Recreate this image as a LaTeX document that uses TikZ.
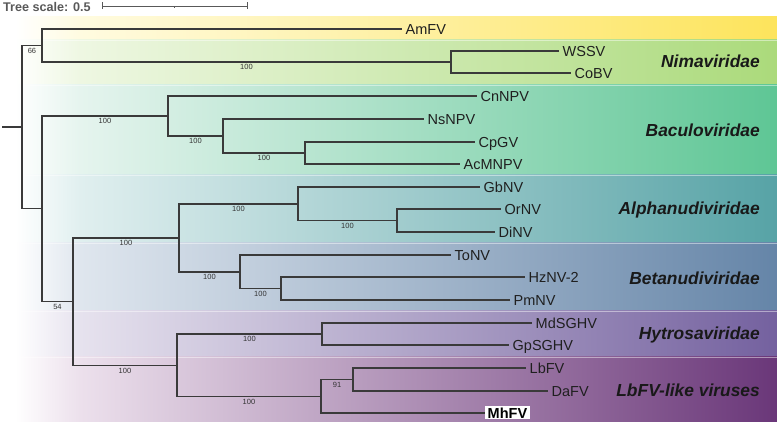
\documentclass[tikz,border=0pt]{standalone}
\usepackage{fontspec}
\setmainfont{Liberation Sans}
\definecolor{brc}{HTML}{3A3A3A}
\definecolor{amP}{HTML}{FFFBE0}\definecolor{amF}{HTML}{FDE45C}
\definecolor{niP}{HTML}{EEF7E2}\definecolor{niF}{HTML}{ABDA7B}
\definecolor{baP}{HTML}{E5F4EE}\definecolor{baF}{HTML}{5EC695}
\definecolor{alP}{HTML}{E0EFEF}\definecolor{alF}{HTML}{57A3A6}
\definecolor{beP}{HTML}{DFE6EE}\definecolor{beF}{HTML}{6585A8}
\definecolor{hyP}{HTML}{E6E2EE}\definecolor{hyF}{HTML}{74619F}
\definecolor{lbP}{HTML}{ECE0EC}\definecolor{lbF}{HTML}{6A3779}
\newcommand{\bandfill}[4]{%
  \shade[left color=white, right color=#3] (15,#1) rectangle (80.5,#2);
  \shade[left color=#3, right color=#4] (80,#1) rectangle (777,#2);}
\begin{document}
\begin{tikzpicture}[x=1pt,y=-1pt,
  br/.style={draw=brc, line width=1.1pt},
  leaf/.style={anchor=west, inner xsep=3.5pt, inner ysep=0pt, text height=10.4pt, text depth=0pt, font=\fontsize{14.5}{16}\selectfont, text=black!88},
  sup/.style={pos=.75, anchor=north, inner sep=0pt, yshift=-2pt, text height=5.3pt, text depth=0pt, font=\fontsize{7.5}{8}\selectfont, text=black!80},
  fam/.style={anchor=base east, inner sep=0pt, font=\fontsize{17.4}{20}\selectfont\bfseries\itshape, text=black!90},
  sbar/.style={draw=black!65, line width=0.9pt},
]
\useasboundingbox (0,0) rectangle (777,427);
% bands
\bandfill{17}{40}{amP}{amF}
\bandfill{40}{85}{niP}{niF}
\bandfill{85}{175}{baP}{baF}
\bandfill{175}{243}{alP}{alF}
\bandfill{243}{311}{beP}{beF}
\bandfill{311}{357}{hyP}{hyF}
\bandfill{357}{422}{lbP}{lbF}
\foreach \yy in {40,85,175,243,311,357}
  \draw[white, opacity=.45, line width=.8pt] (15,\yy) -- (777,\yy);
% scale
\node[anchor=base west, inner sep=0pt, font=\fontsize{12.6}{14}\selectfont\bfseries, text=black!65] (title) at (3,11.5) {Tree scale: 0.5};
\coordinate (sb1) at (102,6);
\coordinate (sb2) at (247,6);
\draw[sbar] (sb1) -- (sb2);
\draw[sbar] (102,2.5) -- (102,9.5);
\draw[sbar] (247,2.5) -- (247,9.5);
\draw[sbar] (174.5,6) -- (174.5,8.5);
% internal nodes
\coordinate (stem) at (2,127);
\coordinate (root) at (22,127);
\coordinate (n66) at (42,45.5);
\coordinate (nni) at (451,62);
\coordinate (nlow) at (42,208.5);
\coordinate (nba) at (168,116);
\coordinate (nb2) at (223,136);
\coordinate (nb3) at (305,153);
\coordinate (n54) at (73,301.5);
\coordinate (nnu) at (179,238);
\coordinate (nal) at (298,204);
\coordinate (na2) at (397,220.5);
\coordinate (nbe) at (240,272);
\coordinate (nb5) at (281,288.5);
\coordinate (nhl) at (177,365.5);
\coordinate (nhy) at (322,334);
\coordinate (nlb) at (321,396.5);
\coordinate (n91) at (353,379.5);
% leaves
\node[leaf] (AmFV) at (402,29) {AmFV};
\node[leaf] (WSSV) at (559,51) {WSSV};
\node[leaf] (CoBV) at (571,73) {CoBV};
\node[leaf] (CnNPV) at (477,96) {CnNPV};
\node[leaf] (NsNPV) at (424,119) {NsNPV};
\node[leaf] (CpGV) at (475,142) {CpGV};
\node[leaf] (AcMNPV) at (460,164) {AcMNPV};
\node[leaf] (GbNV) at (480,187) {GbNV};
\node[leaf] (OrNV) at (501,209) {OrNV};
\node[leaf] (DiNV) at (495,232) {DiNV};
\node[leaf] (ToNV) at (451,255) {ToNV};
\node[leaf] (HzNV) at (525,277) {HzNV-2};
\node[leaf] (PmNV) at (510,300) {PmNV};
\node[leaf] (MdSGHV) at (532,323) {MdSGHV};
\node[leaf] (GpSGHV) at (509,345) {GpSGHV};
\node[leaf] (LbFV) at (526,368) {LbFV};
\node[leaf] (DaFV) at (548,391) {DaFV};
\node[leaf, fill=white, inner xsep=2.5pt, inner ysep=1.3pt, font=\fontsize{14.5}{16}\selectfont\bfseries, text=black] (MhFV) at (485,413) {MhFV};
% branches
\draw[br] (stem) -- (root);
\draw[br] (root) |- node[sup] (s66) {66} (n66);
\draw[br] (n66) |- (AmFV);
\draw[br] (n66) |- node[sup] (s1) {100} (nni);
\draw[br] (nni) |- (WSSV);
\draw[br] (nni) |- (CoBV);
\draw[br] (root) |- (nlow);
\draw[br] (nlow) |- node[sup] (s2) {100} (nba);
\draw[br] (nba) |- (CnNPV);
\draw[br] (nba) |- node[sup] (s3) {100} (nb2);
\draw[br] (nb2) |- (NsNPV);
\draw[br] (nb2) |- node[sup] (s4) {100} (nb3);
\draw[br] (nb3) |- (CpGV);
\draw[br] (nb3) |- (AcMNPV);
\draw[br] (nlow) |- node[sup] (s54) {54} (n54);
\draw[br] (n54) |- node[sup] (s5) {100} (nnu);
\draw[br] (nnu) |- node[sup] (s6) {100} (nal);
\draw[br] (nal) |- (GbNV);
\draw[br] (nal) |- node[sup] (s7) {100} (na2);
\draw[br] (na2) |- (OrNV);
\draw[br] (na2) |- (DiNV);
\draw[br] (nnu) |- node[sup] (s8) {100} (nbe);
\draw[br] (nbe) |- (ToNV);
\draw[br] (nbe) |- node[sup] (s9) {100} (nb5);
\draw[br] (nb5) |- (HzNV);
\draw[br] (nb5) |- (PmNV);
\draw[br] (n54) |- node[sup] (s10) {100} (nhl);
\draw[br] (nhl) |- node[sup] (s11) {100} (nhy);
\draw[br] (nhy) |- (MdSGHV);
\draw[br] (nhy) |- (GpSGHV);
\draw[br] (nhl) |- node[sup] (s12) {100} (nlb);
\draw[br] (nlb) |- node[sup] (s91) {91} (n91);
\draw[br] (n91) |- (LbFV);
\draw[br] (n91) |- (DaFV);
\draw[br] (nlb) |- (MhFV);
% family labels
\node[fam] (fNim) at (760,68) {Nimaviridae};
\node[fam] (fBac) at (760,137) {Baculoviridae};
\node[fam] (fAlp) at (760,214.5) {Alphanudiviridae};
\node[fam] (fBet) at (760,285) {Betanudiviridae};
\node[fam] (fHyt) at (760,339.5) {Hytrosaviridae};
\node[fam] (fLb) at (760,397) {LbFV-like viruses};
\end{tikzpicture}
\end{document}
